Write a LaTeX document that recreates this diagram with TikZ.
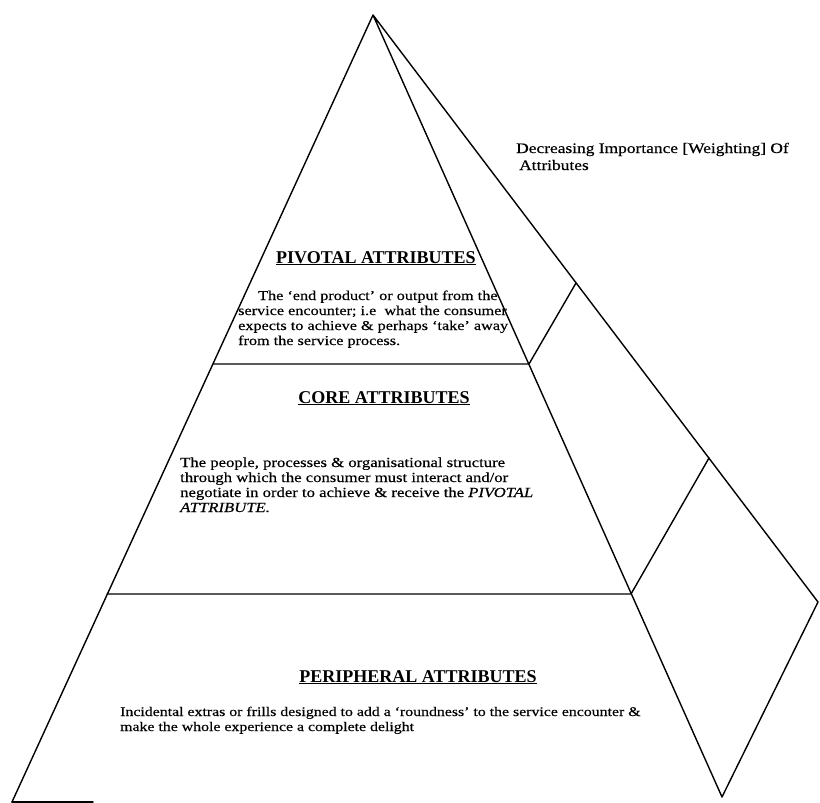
\documentclass[tikz,border=0pt]{standalone}
\usepackage{fontspec}
\setmainfont{Liberation Serif}
\newfontfamily\bodyfont{Liberation Serif}[FakeStretch=1.2,FakeBold=0.4]
\usetikzlibrary{calc}

% stacked lines whose baseline is that of the first line
\newcommand{\txtlines}[1]{\begin{tabular}[t]{@{}l@{}}#1\end{tabular}}

\begin{document}
\begin{tikzpicture}[x=1pt,y=-1pt,
  edge/.style={line width=1.4pt, line join=round, line cap=round},
  heading/.style={font=\fontsize{18}{20}\selectfont\bfseries, anchor=base, inner sep=0pt},
  body/.style={font=\bodyfont\fontsize{13.5}{15}\selectfont, anchor=base west, inner sep=0pt}]

\useasboundingbox (0,0) rectangle (820,803);

% corners of the pyramid
\coordinate (apex) at (373,15);
\coordinate (bl)   at (12,802);
\coordinate (br)   at (722,797);
\coordinate (rt)   at (818,602);
\coordinate (base) at (93,802);

% tier boundaries on the front face
\coordinate (l1) at (213,364);
\coordinate (r1) at (529,364);
\coordinate (l2) at (107,594);
\coordinate (r2) at (631,594);

% tier boundaries on the side face
\coordinate (s1) at (576,283);
\coordinate (s2) at (709,458);

% outline
\draw[edge] (bl) -- (apex) -- (br) -- (rt) -- (apex);
\draw[edge] (bl) -- (base);

% tiers
\draw[edge] (l1) -- (r1) -- (s1);
\draw[edge] (l2) -- (r2) -- (s2);

% labels
\node[heading] (pivh) at (376,263) {\underline{PIVOTAL ATTRIBUTES}};
\node[body] (pivt) at (238,300) {\txtlines{\hspace{20pt}The ‘end product’ or output from the\\
  service encounter; i.e\ \ what the consumer\\
  expects to achieve \& perhaps ‘take’ away\\
  from the service process.}};

\node[heading] (coreh) at (384,403) {\underline{CORE ATTRIBUTES}};
\node[body, font=\bodyfont\fontsize{13.9}{15}\selectfont] (coret) at (180,467) {\txtlines{The people, processes \& organisational structure\\
  through which the consumer must interact and/or\\
  negotiate in order to achieve \& receive the \textit{PIVOTAL}\\
  \textit{ATTRIBUTE.}}};

\node[heading] (perh) at (418,682) {\underline{PERIPHERAL ATTRIBUTES}};
\node[body, font=\bodyfont\fontsize{13.2}{15}\selectfont] (pert) at (120,716) {\txtlines{Incidental extras or frills designed to add a ‘roundness’ to the service encounter \&\\
  make the whole experience a complete delight}};

\node[body, font=\bodyfont\fontsize{14.5}{17}\selectfont] (dec) at (516,153) {\txtlines{Decreasing Importance [Weighting] Of\\
  \hspace{3pt}Attributes}};

\end{tikzpicture}
\end{document}
